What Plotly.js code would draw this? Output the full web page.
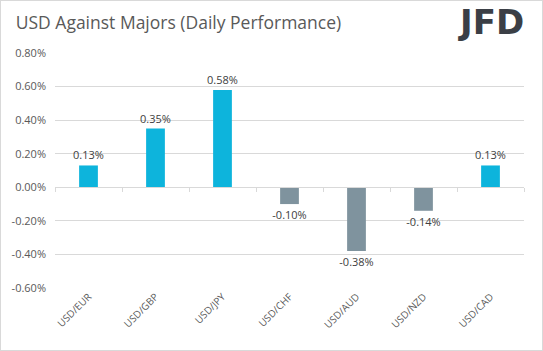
<!DOCTYPE html>
<html><head><meta charset="utf-8">
<script src="https://cdn.plot.ly/plotly-3.0.1.min.js"></script>
<style>
html,body{margin:0;padding:0;background:#fff;}
#wrap{position:relative;width:543px;height:351px;}
#chart{width:543px;height:351px;}
#frame{position:absolute;left:0;top:0;width:541px;height:349px;border:1px solid #d9d9d9;pointer-events:none;}
</style></head>
<body>
<div id="wrap"><div id="chart"></div><div id="frame"></div></div>
<script>
const categories = ["USD/EUR","USD/GBP","USD/JPY","USD/CHF","USD/AUD","USD/NZD","USD/CAD"];
const values = [0.13, 0.35, 0.58, -0.10, -0.38, -0.14, 0.13];
const tickValues = [-0.6,-0.4,-0.2,0,0.2,0.4,0.6,0.8];
const tickLabels = tickValues.map(v => v.toFixed(2) + "%");
const posColor = "#0db4dc", negColor = "#7f939e";

const bars = {
  type: "bar", x: categories, y: values,
  marker: {color: values.map(v => v >= 0 ? posColor : negColor)},
  width: 0.28,
  text: values.map(v => v.toFixed(2) + "%"),
  textposition: "outside", cliponaxis: false, constraintext: "none",
  textfont: {family: "Open Sans, sans-serif", size: 11, color: "#404040"},
  outsidetextfont: {family: "Open Sans, sans-serif", size: 11, color: "#404040"},
  hoverinfo: "skip"
};
const zeroAxis = {
  type: "scatter", mode: "none", x: categories, y: values.map(() => 0),
  xaxis: "x2", yaxis: "y", hoverinfo: "skip", showlegend: false
};

const layout = {
  width: 543, height: 351,
  margin: {l: 55, r: 19, t: 53, b: 63},
  paper_bgcolor: "#fff", plot_bgcolor: "#fff",
  showlegend: false,
  font: {family: "Open Sans, sans-serif", color: "#595959", size: 11},
  title: {text: "USD Against Majors (Daily Performance)", x: 0.029, xanchor: "left", y: 0.935, yanchor: "middle",
          font: {family: "Open Sans, sans-serif", size: 17.5, color: "#595959"}},
  xaxis: {type: "category", categoryorder: "array", categoryarray: categories,
          range: [-0.5, 6.5], showgrid: false, zeroline: false, showline: false, ticks: "",
          tickangle: -45, tickfont: {size: 10, color: "#595959"}, fixedrange: true},
  xaxis2: {type: "category", categoryorder: "array", categoryarray: categories,
           matches: "x", overlaying: "x", anchor: "free", position: 0.6/1.4,
           showline: true, linecolor: "#d9d9d9", linewidth: 1,
           tickson: "boundaries", ticks: "outside", ticklen: 4, tickcolor: "#d9d9d9",
           showticklabels: false, showgrid: false, zeroline: false},
  yaxis: {range: [-0.6, 0.8], tickvals: tickValues, ticktext: tickLabels,
          showgrid: true, gridcolor: "#d9d9d9", gridwidth: 1, zeroline: false,
          showline: false, ticks: "", ticklabelstandoff: 8,
          tickfont: {size: 11, color: "#595959"}, fixedrange: true},
  annotations: [{xref: "paper", yref: "paper", x: 1.002, y: 1.13, xanchor: "right", yanchor: "middle",
                 text: "<b>JFD</b>", showarrow: false, borderpad: 0,
                 font: {family: "DejaVu Sans, sans-serif", size: 34, color: "#3b3f46"}}]
};
Plotly.newPlot("chart", [bars, zeroAxis], layout, {staticPlot: true, displayModeBar: false});
</script>
</body></html>
